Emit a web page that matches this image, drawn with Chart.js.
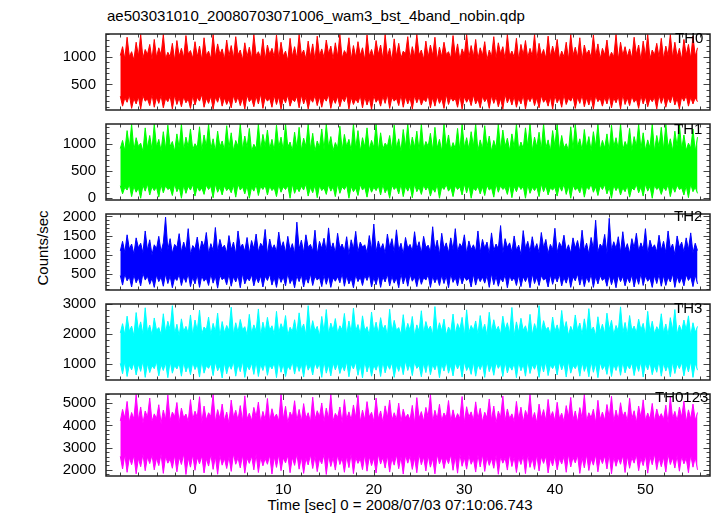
<!DOCTYPE html>
<html>
<head>
<meta charset="utf-8">
<title>ae503031010 wam3 bst 4band</title>
<script src="https://cdn.jsdelivr.net/npm/chart.js"></script>
<style>
  body { margin: 0; width: 717px; height: 516px; background: #fff; position: relative; overflow: hidden;
         font-family: "Liberation Sans", Arial, sans-serif; }
  .panel { position: absolute; left: 0; width: 717px; }
  .txt { position: absolute; font-size: 15px; line-height: 1; color: #000; white-space: nowrap; }
</style>
</head>
<body>

<div class="txt" style="left:107px; top:8px">ae503031010_20080703071006_wam3_bst_4band_nobin.qdp</div>
<div class="txt" style="left:42px; top:248px; transform: translate(-50%, -50%) rotate(-90deg)">Counts/sec</div>
<div class="txt" style="left:400px; top:497px; transform: translateX(-50%)">Time [sec] 0 = 2008/07/03 07:10:06.743</div>

<script>
// time bins (sec), 0.25 s resolution
const times = [
  -8,-7.75,-7.5,-7.25,-7,-6.75,-6.5,-6.25,-6,-5.75,-5.5,-5.25,-5,-4.75,-4.5,-4.25,
  -4,-3.75,-3.5,-3.25,-3,-2.75,-2.5,-2.25,-2,-1.75,-1.5,-1.25,-1,-0.75,-0.5,-0.25,
  0,0.25,0.5,0.75,1,1.25,1.5,1.75,2,2.25,2.5,2.75,3,3.25,3.5,3.75,
  4,4.25,4.5,4.75,5,5.25,5.5,5.75,6,6.25,6.5,6.75,7,7.25,7.5,7.75,
  8,8.25,8.5,8.75,9,9.25,9.5,9.75,10,10.25,10.5,10.75,11,11.25,11.5,11.75,
  12,12.25,12.5,12.75,13,13.25,13.5,13.75,14,14.25,14.5,14.75,15,15.25,15.5,15.75,
  16,16.25,16.5,16.75,17,17.25,17.5,17.75,18,18.25,18.5,18.75,19,19.25,19.5,19.75,
  20,20.25,20.5,20.75,21,21.25,21.5,21.75,22,22.25,22.5,22.75,23,23.25,23.5,23.75,
  24,24.25,24.5,24.75,25,25.25,25.5,25.75,26,26.25,26.5,26.75,27,27.25,27.5,27.75,
  28,28.25,28.5,28.75,29,29.25,29.5,29.75,30,30.25,30.5,30.75,31,31.25,31.5,31.75,
  32,32.25,32.5,32.75,33,33.25,33.5,33.75,34,34.25,34.5,34.75,35,35.25,35.5,35.75,
  36,36.25,36.5,36.75,37,37.25,37.5,37.75,38,38.25,38.5,38.75,39,39.25,39.5,39.75,
  40,40.25,40.5,40.75,41,41.25,41.5,41.75,42,42.25,42.5,42.75,43,43.25,43.5,43.75,
  44,44.25,44.5,44.75,45,45.25,45.5,45.75,46,46.25,46.5,46.75,47,47.25,47.5,47.75,
  48,48.25,48.5,48.75,49,49.25,49.5,49.75,50,50.25,50.5,50.75,51,51.25,51.5,51.75,
  52,52.25,52.5,52.75,53,53.25,53.5,53.75,54,54.25,54.5,54.75,55,55.25,55.5,55.75
];

// upper / lower envelope of each light curve (counts/sec)
const th0Hi = [
  1020,1180,960,1350,1000,1090,940,1260,1010,1400,970,1130,1040,1220,950,1310,
  990,1160,1030,1400,960,1080,1000,1240,930,1290,1010,1150,980,1380,1050,1110,
  970,1270,1000,1190,940,1340,1020,1100,960,1400,990,1230,1040,1140,950,1300,
  1010,1200,970,1360,1030,1120,940,1250,1000,1170,960,1400,1020,1090,980,1320,
  950,1210,1040,1150,990,1390,960,1260,1010,1100,930,1330,1000,1180,970,1400,
  1030,1120,960,1280,1000,1230,940,1370,1020,1140,980,1300,1050,1190,960,1250,
  1000,1400,970,1110,1030,1340,950,1200,990,1270,1020,1160,940,1390,1010,1130,
  980,1290,1040,1210,960,1400,1000,1150,930,1320,1010,1240,970,1100,1050,1360,
  960,1180,1000,1400,1030,1120,950,1280,990,1210,1020,1350,940,1170,1000,1260,
  1040,1090,970,1380,1010,1230,950,1140,1030,1400,980,1200,1000,1310,960,1160,
  1020,1270,940,1120,1000,1360,970,1250,1050,1180,960,1400,1010,1100,990,1330,
  950,1220,1030,1290,980,1150,1010,1400,940,1240,1020,1130,970,1370,1000,1190,
  1030,1310,960,1100,1000,1260,950,1400,1020,1170,990,1340,940,1210,1040,1120,
  980,1390,1010,1230,960,1150,1030,1300,970,1080,1000,1400,950,1260,1020,1180,
  1000,1140,970,1350,1040,1210,940,1280,1010,1400,960,1120,1030,1240,990,1330,
  960,1190,1020,1400,980,1260,1000,1150,950,1310,1030,1220,970,1370,1010,1160
];
const th0Lo = [
  290,110,260,180,310,70,250,150,280,60,300,200,240,120,320,90,
  270,160,300,80,250,190,290,60,310,140,260,100,280,170,240,70,
  300,130,270,200,320,90,250,160,290,60,270,180,310,110,260,140,
  240,80,300,170,280,120,260,60,310,190,250,100,290,150,330,70,
  270,200,250,90,300,140,280,60,260,170,310,110,240,190,290,80,
  310,150,270,60,250,180,300,120,280,90,260,200,320,70,250,160,
  290,100,260,190,310,60,270,140,240,170,300,80,280,130,260,50,
  300,180,250,110,290,160,320,70,270,200,250,120,310,90,280,150,
  260,60,300,170,280,130,240,190,310,80,270,110,290,160,250,70,
  320,140,270,200,250,90,300,60,280,180,260,120,310,150,240,80,
  290,190,260,70,300,160,280,100,250,60,320,170,270,130,290,90,
  250,150,310,60,270,190,290,120,260,80,300,180,240,110,280,60,
  300,170,260,90,320,140,250,200,290,70,270,160,310,100,260,130,
  280,60,300,190,250,110,270,150,310,80,260,170,290,60,320,140,
  260,120,290,180,240,70,300,150,280,100,250,190,270,60,310,160,
  290,90,260,170,310,130,250,60,280,200,300,110,270,150,260,190
];
const th1Hi = [
  910,1060,870,1240,930,1360,880,1110,950,1010,860,1290,920,1150,890,1360,
  940,1080,870,1220,900,1340,950,1040,860,1180,920,1360,880,1120,940,1270,
  890,1000,930,1310,870,1160,950,1360,900,1090,860,1230,940,1050,880,1330,
  920,1200,870,1060,950,1360,890,1140,930,1280,860,990,910,1360,880,1170,
  950,1250,900,1080,870,1340,930,1120,880,1360,940,1030,870,1210,920,1300,
  880,1100,950,1360,900,1190,860,1050,930,1270,890,1360,940,1130,870,1020,
  920,1320,880,1170,950,1080,870,1360,910,1240,860,1110,940,1290,890,1060,
  930,1360,870,1200,900,1010,950,1150,880,1340,920,1090,860,1260,940,1360,
  890,1120,930,1230,870,1360,900,1040,950,1190,880,1300,920,1080,860,1360,
  940,1160,880,1020,910,1280,870,1360,930,1110,900,1220,950,1360,870,1070,
  900,1330,940,1140,860,1060,920,1360,890,1250,950,1100,870,1180,930,1360,
  880,1030,910,1290,950,1360,870,1120,940,1210,890,1360,920,1070,860,1240,
  950,1360,880,1150,920,1000,870,1310,900,1360,940,1090,880,1260,930,1130,
  870,1220,950,1360,890,1060,920,1180,860,1340,940,1110,900,1360,880,1040,
  930,1280,870,1130,950,1360,900,1200,880,1070,920,1360,860,1150,940,1300,
  890,1360,930,1090,870,1230,950,1360,900,1160,880,1010,920,1270,860,1120
];
const th1Lo = [
  230,80,200,150,250,30,220,110,190,0,240,130,260,60,210,140,
  200,20,250,100,230,160,190,50,260,120,210,0,240,90,220,150,
  250,40,210,130,190,70,240,160,220,10,260,110,200,60,230,140,
  190,100,240,20,260,150,210,80,230,0,200,130,250,50,220,160,
  240,60,220,140,190,30,250,110,210,160,230,0,260,90,200,120,
  220,150,260,40,200,100,240,10,230,140,190,70,250,130,210,30,
  260,90,210,160,240,0,220,120,190,50,250,150,200,20,230,110,
  200,140,230,60,250,100,190,0,240,160,210,80,260,30,220,130,
  230,10,260,120,200,70,240,150,220,40,190,110,250,0,210,160,
  250,130,200,30,230,160,210,60,260,100,240,0,190,140,220,80,
  210,50,240,150,190,20,260,110,230,160,200,70,250,10,220,120,
  240,160,220,0,250,90,200,140,210,30,260,120,230,60,190,150,
  200,40,230,130,260,70,220,0,240,150,190,100,250,20,210,160,
  260,110,210,50,230,160,250,80,200,0,240,140,220,60,190,120,
  230,20,190,150,250,100,210,40,260,130,220,0,240,160,200,70,
  210,140,250,30,220,110,240,160,190,60,230,10,260,120,200,90
];
const th2Hi = [
  1100,1350,1060,1520,1150,1280,1020,1440,1180,1300,1050,1620,1120,1390,1000,1260,
  1160,1480,1080,1310,1980,1130,1420,1040,1270,1190,1550,1070,1330,1120,1680,1010,
  1240,1150,1460,1060,1360,1200,1580,1030,1290,1110,1710,1080,1400,1170,1250,1050,
  1500,1130,1330,1020,1620,1180,1280,1090,1450,1040,1370,1160,1540,1070,1300,1200,
  1660,1010,1410,1140,1260,1080,1590,1170,1340,1050,1480,1120,1290,1030,1850,1150,
  1380,1060,1520,1190,1270,1100,1640,1020,1350,1160,1430,1080,1700,1130,1310,1040,
  1560,1170,1280,1090,1470,1010,1390,1150,1610,1070,1330,1200,1260,1050,1500,1120,
  1800,1080,1360,1140,1290,1030,1540,1180,1420,1060,1650,1110,1300,1020,1450,1170,
  1270,1090,1600,1150,1340,1040,1480,1190,1250,1070,1730,1120,1380,1010,1560,1160,
  1310,1050,1440,1130,1680,1080,1290,1200,1520,1030,1360,1140,1260,1090,1620,1060,
  1400,1170,1330,1020,1570,1110,1280,1150,1760,1040,1420,1190,1310,1070,1490,1120,
  1250,1010,1630,1160,1350,1080,1470,1130,1290,1050,1580,1180,1400,1030,1270,1140,
  1690,1060,1320,1190,1510,1100,1260,1040,1440,1170,1370,1080,1640,1120,1300,1020,
  1450,1150,1900,1070,1280,1190,1530,1030,1950,1110,1340,1160,1470,1060,1600,1130,
  1290,1040,1420,1180,1560,1090,1310,1140,1680,1020,1380,1170,1260,1080,1510,1120,
  1350,1060,1620,1150,1280,1010,1490,1190,1330,1070,1440,1130,1570,1050,1300,1110
];
const th2Lo = [
  460,210,500,320,430,160,480,270,410,190,520,340,440,230,390,150,
  470,300,420,180,500,250,450,140,400,330,490,200,430,280,510,170,
  420,240,480,150,450,310,390,200,500,260,440,130,470,350,410,220,
  500,180,430,290,460,140,510,240,400,320,480,190,420,270,450,160,
  440,330,490,210,410,150,470,280,430,190,520,250,390,140,460,300,
  480,160,420,260,500,200,440,340,410,170,470,230,450,150,400,310,
  430,270,510,180,450,240,390,140,480,300,420,200,460,330,500,160,
  410,220,470,150,430,290,490,190,440,260,400,140,510,240,450,180,
  490,310,420,170,460,230,400,340,480,150,440,270,420,200,470,250,
  450,140,500,280,410,190,470,240,430,330,390,160,490,210,440,300,
  420,260,460,150,510,220,440,180,400,290,480,140,450,320,410,200,
  470,170,430,300,450,140,500,250,420,200,460,340,390,160,480,230,
  440,290,490,190,410,260,470,150,430,320,500,210,450,170,420,280,
  500,150,440,240,460,330,400,180,480,220,420,140,470,300,440,190,
  410,270,480,160,430,230,510,200,450,310,390,150,460,250,490,180,
  460,200,420,290,500,150,440,260,410,190,480,330,430,170,470,240
];
const th3Hi = [
  2040,2350,1980,2600,2100,2270,1950,2720,2120,2410,2000,2880,2070,2300,1970,2540,
  2130,2220,1990,2680,2060,2430,2150,2950,2010,2330,1940,2510,2090,2260,2030,2640,
  1960,2470,2110,2800,2000,2240,2140,2570,1980,2360,2080,2700,1930,2420,2050,2290,
  2120,2900,1990,2380,2060,2490,2150,2250,1970,2660,2030,2310,2100,2840,1950,2400,
  2070,2560,2130,2280,1990,2760,2040,2350,2140,2620,1960,2230,2090,2480,2010,2710,
  2150,2340,1980,2950,2050,2450,2110,2260,1940,2590,2080,2820,2000,2370,2130,2520,
  2030,2280,2140,2690,1970,2440,2060,2870,2110,2320,1990,2610,2120,2250,1950,2740,
  2080,2400,2010,2550,2150,2300,1960,2830,2070,2460,2130,2220,1990,2650,2040,2360,
  2120,2590,1950,2310,2090,2780,2030,2420,2140,2270,1980,2920,2060,2380,2110,2500,
  1970,2240,2080,2670,2010,2350,2150,2560,1940,2810,2050,2290,2130,2440,2000,2620,
  2100,2330,1960,2730,2070,2480,2120,2260,1990,2600,2140,2380,2020,2890,1950,2410,
  2060,2530,2130,2280,2000,2660,1970,2350,2110,2950,2040,2450,2150,2230,1980,2570,
  2090,2310,2020,2790,2140,2420,1960,2260,2070,2640,2120,2370,1990,2510,2050,2850,
  2130,2240,1950,2580,2080,2330,2010,2700,2150,2460,1980,2290,2100,2910,2030,2390,
  1990,2620,2120,2270,2050,2500,2140,2360,1960,2760,2070,2430,2010,2250,2110,2680,
  2040,2340,1970,2550,2130,2820,2000,2300,2090,2470,2140,2610,1950,2380,2060,2260
];
const th3Lo = [
  1030,680,1090,590,970,810,1050,640,1000,760,1110,560,1020,720,950,850,
  1080,610,990,790,1040,550,1100,700,960,840,1030,600,1070,740,980,650,
  1060,820,1000,570,1110,700,950,860,1020,620,1070,780,940,540,1050,680,
  990,830,1080,600,1010,750,1100,560,960,810,1040,660,1090,590,1000,790,
  1070,630,980,840,1050,550,1110,730,1010,590,950,820,1080,670,1030,760,
  1000,570,1090,800,970,640,1060,850,1020,560,1100,700,980,610,1050,810,
  1040,690,960,770,1080,580,1010,840,1070,630,990,540,1100,740,1020,600,
  970,800,1050,590,1090,710,1000,830,1060,560,980,760,1030,650,1110,790,
  1020,620,1080,860,960,580,1040,720,1100,650,990,810,1060,550,1010,770,
  1090,700,970,610,1050,840,1020,570,1080,790,950,660,1070,600,1000,820,
  1030,560,1100,750,990,630,1060,860,1010,590,1080,710,960,800,1040,550,
  1070,780,1000,600,1110,690,980,830,1050,560,1020,740,1090,620,970,850,
  1010,640,1080,810,1040,570,1100,700,960,850,1030,600,1070,760,990,580,
  1090,730,1020,550,1060,820,970,660,1100,590,1000,790,1050,630,1080,710,
  980,840,1050,620,1000,760,1090,570,1030,810,1070,650,960,730,1110,600,
  1040,770,990,580,1080,690,1020,850,1060,610,1000,740,1090,560,1030,800
];
const th0123Hi = [
  4200,4720,4330,5080,4150,4580,4290,5400,4240,4830,4110,4650,4370,5230,4180,4520,
  4310,4930,4090,4690,4260,5370,4220,4600,4390,5030,4130,4780,4340,4510,4170,5160,
  4270,4640,4360,5290,4120,4870,4250,4570,4400,5400,4160,4710,4300,4960,4210,4600,
  4100,5140,4350,4680,4230,4890,4180,5330,4290,4550,4210,4810,4380,5050,4140,4630,
  4250,5210,4160,4750,4340,4510,4200,5400,4280,4860,4110,4600,4370,5110,4220,4720,
  4190,4980,4310,4570,4150,5270,4260,4660,4390,5010,4170,4780,4300,5400,4200,4540,
  4360,4830,4120,5160,4270,4610,4240,4920,4340,5350,4160,4690,4250,5070,4380,4590,
  4180,5230,4290,4650,4140,4880,4350,5140,4230,4570,4270,5000,4160,4730,4330,4510,
  4240,4900,4100,5250,4320,4620,4190,4810,4370,5400,4150,4680,4280,4950,4210,4560,
  4350,5120,4170,4700,4260,4530,4310,5300,4130,4840,4380,4610,4220,5060,4290,4770,
  4160,4590,4340,5190,4230,4870,4110,4640,4360,5320,4200,4740,4300,4520,4180,5080,
  4280,4820,4150,4670,4390,5400,4250,4580,4120,4960,4330,4710,4210,5170,4360,4620,
  4200,5040,4300,4550,4170,4890,4380,5260,4240,4650,4140,4800,4320,5400,4190,4570,
  4340,4730,4120,5130,4270,4600,4230,4940,4360,5310,4160,4690,4250,5020,4390,4610,
  4180,5220,4300,4660,4130,4870,4350,5150,4220,4560,4280,4990,4170,4740,4340,4530,
  4260,4910,4110,5280,4310,4630,4200,4820,4370,5090,4150,4700,4290,4960,4230,4580
];
const th0123Lo = [
  2610,2040,2690,1890,2560,2230,2650,1820,2520,2140,2710,1960,2580,2280,2670,2000,
  2530,2190,2700,1840,2610,2300,2490,2070,2660,1910,2570,2240,2720,1790,2540,2120,
  2680,1980,2560,2270,2630,1860,2510,2170,2690,2020,2600,1800,2650,2210,2520,2060,
  2590,1930,2720,2250,2550,2090,2670,1850,2530,2290,2620,2000,2700,1880,2570,2180,
  2510,2250,2660,1810,2600,2110,2690,1960,2540,2310,2640,1870,2560,2200,2710,2030,
  2580,1840,2520,2220,2680,2060,2610,1920,2500,2270,2700,1790,2640,2150,2550,1990,
  2670,2240,2530,1890,2620,2100,2720,1830,2570,2290,2510,2010,2690,1940,2600,2190,
  2540,1860,2700,2260,2560,2080,2640,1900,2520,2210,2680,2050,2590,1810,2660,2300,
  2620,2020,2550,1870,2700,2230,2580,1950,2650,2120,2510,1820,2690,2270,2560,2060,
  2530,2280,2680,1980,2610,1850,2720,2160,2550,2030,2640,2250,2500,1900,2670,2130,
  2690,1930,2570,2200,2520,2070,2660,1800,2600,2300,2540,1990,2710,2150,2580,1880,
  2560,2240,2650,1830,2700,2110,2530,2020,2680,1950,2590,2290,2620,1860,2510,2180,
  2640,2000,2520,2260,2610,1890,2700,2130,2570,2310,2660,1840,2550,2090,2690,1970,
  2500,2210,2680,1910,2560,2280,2630,2040,2710,1820,2590,2160,2540,2250,2650,1880,
  2620,2070,2550,2300,2690,1960,2520,2190,2660,1850,2600,2230,2720,2010,2570,2140,
  2580,1900,2700,2240,2540,2080,2640,1940,2610,2270,2530,1870,2680,2120,2560,2000
];

const names = ['TH0', 'TH1', 'TH2', 'TH3', 'TH0123'];
const hiSeries = [th0Hi, th1Hi, th2Hi, th3Hi, th0123Hi];
const loSeries = [th0Lo, th1Lo, th2Lo, th3Lo, th0123Lo];

// axis ticks
const xTickLabels = [0, 10, 20, 30, 40, 50];
const yTickLabels = [[500, 1000], [0, 500, 1000], [500, 1000, 1500, 2000], [1000, 2000, 3000], [2000, 3000, 4000, 5000]];

// layout / style
const colors = ['#ff0000', '#00ff00', '#0000ff', '#00ffff', '#ff00ff'];
const yMin = [41, -32, 82, 473, 1723];
const yMax = [1408, 1361, 2062, 3005, 5413];
const yMinorStep = [100, 100, 100, 200, 200];
const xMinorStep = 2;
const xMin = -9.58, xMax = 57.13;
const panelTops = [27, 117, 207, 297, 387];
const plotBottom = 476;
const labelPos = [[675, 30], [674, 121], [674, 208], [674, 300], [655, 389]];
const PAD = 12;

Chart.defaults.font.family = "'Liberation Sans', Arial, sans-serif";
Chart.defaults.font.size = 15;
Chart.defaults.color = '#000';

// inward ticks on all four sides plus the panel frame
function frame(i) {
  return {
    id: 'frame' + i,
    afterDatasetsDraw(chart) {
      const { ctx, chartArea: a } = chart;
      const xs = chart.scales.x, ys = chart.scales.y;
      ctx.save();
      ctx.strokeStyle = '#444';
      ctx.lineWidth = 1;
      ctx.beginPath();
      for (let v = Math.ceil(xs.min / xMinorStep) * xMinorStep; v <= xs.max; v += xMinorStep) {
        const len = xTickLabels.includes(v) ? 6 : 3.5;
        const px = Math.round(xs.getPixelForValue(v)) + 0.5;
        ctx.moveTo(px, a.top); ctx.lineTo(px, a.top + len);
        ctx.moveTo(px, a.bottom); ctx.lineTo(px, a.bottom - len);
      }
      const st = yMinorStep[i];
      for (let v = Math.ceil(ys.min / st) * st; v <= ys.max; v += st) {
        const len = yTickLabels[i].includes(v) ? 6.5 : 3.5;
        const py = Math.round(ys.getPixelForValue(v)) + 0.5;
        ctx.moveTo(a.left, py); ctx.lineTo(a.left + len, py);
        ctx.moveTo(a.right, py); ctx.lineTo(a.right - len, py);
      }
      ctx.stroke();
      ctx.strokeStyle = '#222';
      ctx.lineWidth = 1.5;
      ctx.strokeRect(a.left, a.top, a.right - a.left, a.bottom - a.top);
      ctx.restore();
    }
  };
}

for (let i = 0; i < 5; i++) {
  const last = i === 4;
  const top = panelTops[i] - PAD;
  const bottom = last ? 516 : (panelTops[i + 1] || plotBottom) + PAD;
  const box = document.createElement('div');
  box.className = 'panel';
  box.style.top = top + 'px';
  box.style.height = (bottom - top) + 'px';
  const canvas = document.createElement('canvas');
  canvas.width = 717;
  canvas.height = bottom - top;
  box.appendChild(canvas);
  document.body.appendChild(box);

  const lab = document.createElement('div');
  lab.className = 'txt';
  lab.style.left = labelPos[i][0] + 'px';
  lab.style.top = labelPos[i][1] + 'px';
  lab.textContent = names[i];

  const hi = times.map((t, k) => ({ x: t, y: hiSeries[i][k] }));
  const lo = times.map((t, k) => ({ x: t, y: loSeries[i][k] }));

  new Chart(canvas, {
    type: 'line',
    data: {
      datasets: [
        { label: names[i] + ' max', data: hi, borderColor: colors[i], backgroundColor: colors[i],
          borderWidth: 1, pointRadius: 0, tension: 0, fill: '+1' },
        { label: names[i] + ' min', data: lo, borderColor: colors[i], backgroundColor: colors[i],
          borderWidth: 1, pointRadius: 0, tension: 0, fill: false }
      ]
    },
    options: {
      responsive: false,
      animation: false,
      devicePixelRatio: 1,
      layout: { padding: { left: 0, right: 7, top: PAD, bottom: last ? 0 : PAD } },
      plugins: { legend: { display: false }, tooltip: { enabled: false } },
      scales: {
        x: {
          type: 'linear', min: xMin, max: xMax, display: last,
          grid: { display: false, drawTicks: false }, border: { display: false },
          ticks: { padding: 5, autoSkip: false, maxRotation: 0, callback: v => v },
          afterBuildTicks: s => { s.ticks = xTickLabels.map(v => ({ value: v })); },
          afterFit: s => { s.height = last ? 40 : 0; }
        },
        y: {
          type: 'linear', min: yMin[i], max: yMax[i],
          grid: { display: false, drawTicks: false }, border: { display: false },
          ticks: { padding: 10, autoSkip: false, callback: v => v },
          afterBuildTicks: s => { s.ticks = yTickLabels[i].map(v => ({ value: v })); },
          afterFit: s => { s.width = 106; }
        }
      }
    },
    plugins: [frame(i)]
  });
  document.body.appendChild(lab);
}
</script>
</body>
</html>
